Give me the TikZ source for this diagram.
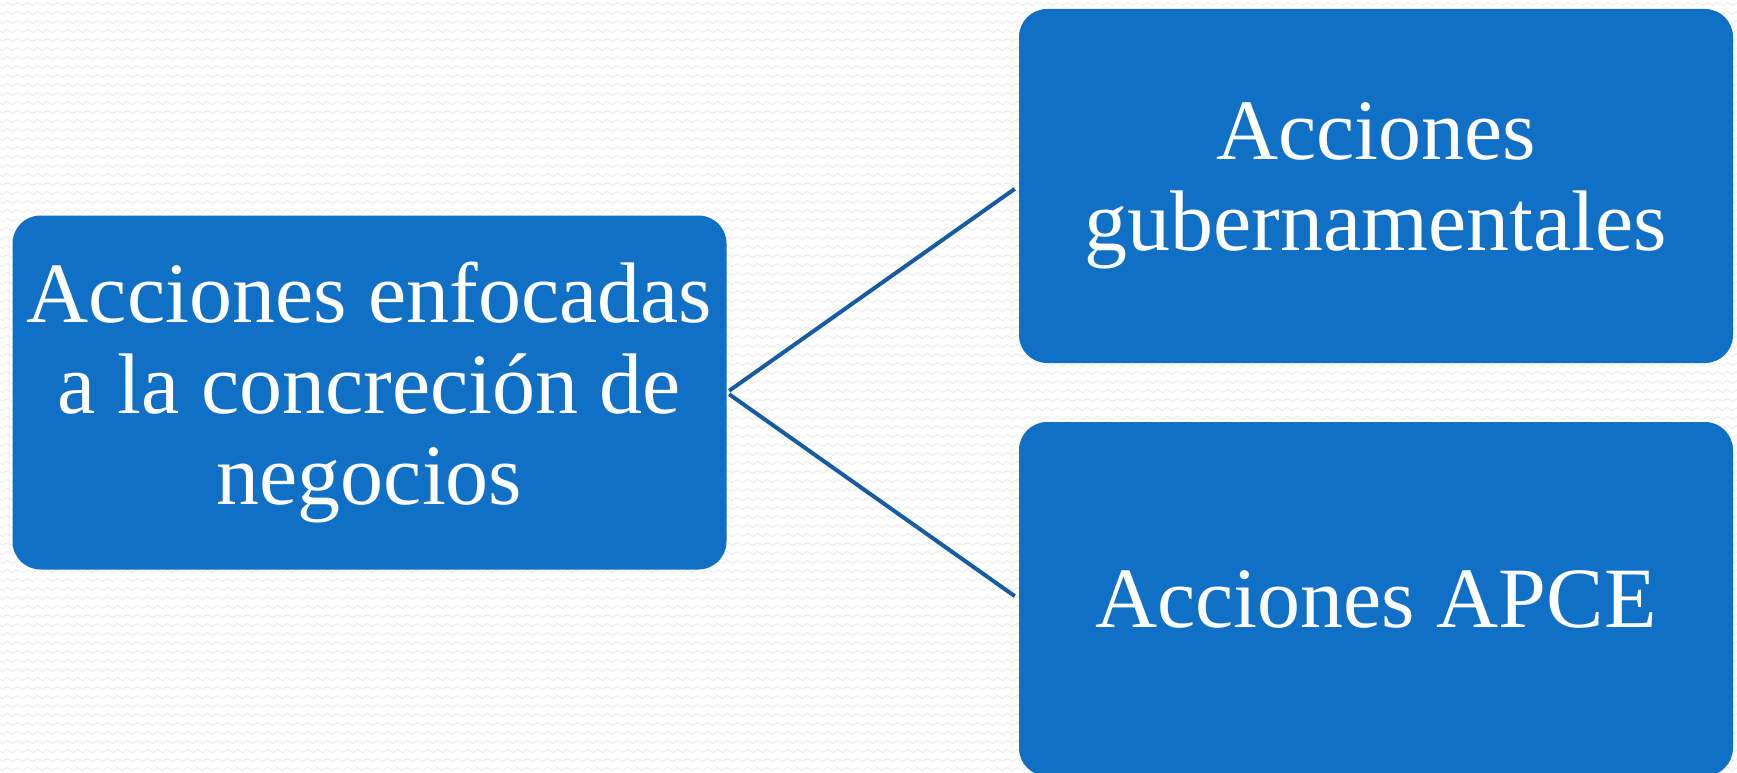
\documentclass[tikz,border=0pt]{standalone}
\usepackage{fontspec}
\setmainfont{Liberation Serif}
\usepackage{tikz}
\usetikzlibrary{decorations.pathmorphing}
\definecolor{boxblue}{RGB}{16,112,198}
\definecolor{lineblue}{RGB}{22,92,162}
\definecolor{wavegray}{RGB}{236,236,236}
\tikzstyle{box} = [draw=none, fill=boxblue, rounded corners=28pt, minimum width=714pt, minimum height=354pt, text=white, align=center, inner sep=0pt, font=\fontsize{86}{91}\selectfont]
\tikzstyle{bgwave} = [wavegray, line width=0.9pt, decorate, decoration={zigzag, segment length=10pt, amplitude=1.6pt}]

\begin{document}
\begin{tikzpicture}[x=1pt, y=-1pt]
    \fill[white] (0,0) rectangle (1737,773);
    \useasboundingbox (0,0) rectangle (1737,773);
    \foreach \r in {4,13,...,773}
        \draw[bgwave] (-5,\r) -- (1745,\r);
    \draw (369.5,392.5) node[box] (acc) {Acciones enfocadas\\a la concreción de\\negocios};
    \draw (1376,186) node[box] (gub) {Acciones\\gubernamentales};
    \draw (1376,599) node[box] (apce) {Acciones APCE};
    \draw [lineblue, line width=4pt, shorten <=3pt, shorten >=5pt] (acc.east) -- (gub.west);
    \draw [lineblue, line width=4pt, shorten <=3pt, shorten >=5pt] (acc.east) -- (apce.west);
\end{tikzpicture}
\end{document}
